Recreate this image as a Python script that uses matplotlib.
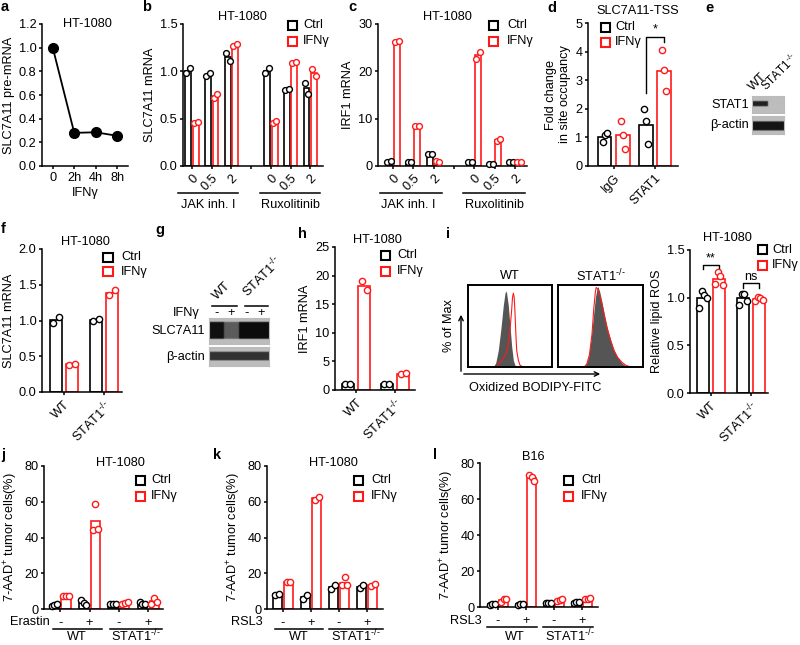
import numpy as np
import matplotlib
matplotlib.use('Agg')
import matplotlib.pyplot as plt
from matplotlib.patches import Rectangle, FancyArrowPatch
from matplotlib.lines import Line2D

plt.rcParams['font.family'] = ['Liberation Sans', 'DejaVu Sans']
plt.rcParams['font.size'] = 9.2
plt.rcParams['mathtext.fontset'] = 'custom'
plt.rcParams['mathtext.rm'] = 'Liberation Sans'
plt.rcParams['mathtext.it'] = 'Liberation Sans:italic'
plt.rcParams['mathtext.bf'] = 'Liberation Sans:bold'
plt.rcParams['axes.linewidth'] = 1.1
plt.rcParams['xtick.major.width'] = 1.1
plt.rcParams['ytick.major.width'] = 1.1
plt.rcParams['xtick.major.size'] = 2.5
plt.rcParams['ytick.major.size'] = 2.5
plt.rcParams['xtick.major.pad'] = 2
plt.rcParams['ytick.major.pad'] = 1.5

W, H = 800, 645
RED = '#ff1a1a'
KO = 'STAT1$^{\\text{-/-}}$'

# ---- data ----
# a
a_time = ['0', '2h', '4h', '8h']
a_pre = [1.0, 0.28, 0.285, 0.255]

# b, c  (JAK inh. I 0/0.5/2, Ruxolitinib 0/0.5/2)
bc_doses = ['0', '0.5', '2', '', '0', '0.5', '2']
b_ctrl = [[0.98, 1.03], [0.95, 0.98], [1.19, 1.11], [0.98, 1.03], [0.80, 0.81], [0.88, 0.76]]
b_ifn = [[0.45, 0.46], [0.72, 0.76], [1.27, 1.29], [0.45, 0.48], [1.09, 1.10], [1.02, 0.95]]
c_ctrl = [[0.9, 1.0], [0.8, 0.8], [2.5, 2.6], [0.9, 0.9], [0.5, 0.5], [0.8, 0.8]]
c_ifn = [[26.1, 26.4], [8.4, 8.4], [1.0, 0.9], [22.7, 24.1], [5.3, 5.8], [0.8, 0.8]]

# d
d_groups = ['IgG', 'STAT1']
d_ctrl = [[0.84, 1.08, 1.16], [2.0, 1.58, 0.76]]
d_ifn = [[1.58, 1.08, 0.6], [4.04, 3.34, 2.63]]

# f, h, i
wt_ko = ['WT', KO]
f_ctrl = [[0.97, 1.05], [0.99, 1.02]]
f_ifn = [[0.38, 0.39], [1.35, 1.42]]
h_ctrl = [[1.1, 1.1], [1.0, 1.1]]
h_ifn = [[19.1, 17.4], [2.8, 2.9]]
i_ctrl = [[0.89, 1.07, 1.03, 1.0], [0.92, 1.04, 1.04, 0.97]]
i_ifn = [[1.14, 1.27, 1.23, 1.13], [0.97, 1.01, 1.0, 0.98]]

# i histograms (x in % of box width, height in % of max)
hist_wt_ctrl_x = [25, 30, 33, 36, 39, 42, 44, 45, 46, 48, 50, 52, 54, 56, 60]
hist_wt_ctrl_y = [0, 0, 5, 20, 45, 75, 90, 93, 90, 75, 50, 25, 8, 2, 0]
hist_wt_ifn_x = [25, 34, 37, 40, 43, 46, 48, 50, 52, 53, 54, 55, 56, 57, 58, 60, 62, 66]
hist_wt_ifn_y = [0, 0, 4, 8, 12, 18, 28, 45, 70, 85, 90, 85, 65, 40, 20, 8, 2, 0]
hist_ko_ctrl_x = [25, 30, 33, 36, 39, 42, 44, 46, 47, 49, 52, 55, 58, 62, 66, 70, 75, 80, 85]
hist_ko_ctrl_y = [0, 0, 3, 12, 35, 65, 85, 96, 98, 92, 78, 62, 48, 33, 20, 12, 5, 1, 0]
hist_ko_ifn_x = [25, 31, 34, 37, 40, 42, 44, 45, 47, 49, 52, 55, 58, 62, 66, 70, 75, 80, 86]
hist_ko_ifn_y = [0, 0, 4, 15, 40, 70, 92, 97, 95, 88, 75, 60, 46, 32, 20, 12, 6, 2, 0]

# j, k, l
treat = ['-', '+', '-', '+']
j_ctrl = [[1.8, 2.0, 2.6], [4.9, 3.4, 2.4], [3.0, 2.8, 3.0], [3.9, 3.0, 2.6]]
j_ifn = [[7.1, 7.0, 7.5], [44.1, 58.7, 45.0], [3.0, 3.4, 3.8], [3.0, 6.4, 3.9]]
k_ctrl = [[8.0, 8.6], [5.8, 7.7], [11.4, 13.6], [11.6, 13.2]]
k_ifn = [[15.1, 15.3], [60.9, 62.8], [13.3, 17.9, 13.2], [12.9, 14.2]]
l_ctrl = [[1.2, 1.5, 1.6], [1.3, 1.5, 1.7], [2.0, 2.2, 2.4], [2.4, 2.6, 2.8]]
l_ifn = [[2.8, 4.2, 4.7], [73.5, 72.0, 70.0], [3.2, 3.7, 4.2], [4.2, 4.7, 5.2]]

# blots (band intensity per lane)
e_stat1 = [0.95, 0.0]
e_actin = [0.95, 0.95]
g_slc = [0.98, 0.55, 1.0, 1.0]
g_actin = [0.85, 0.85, 0.85, 0.85]

fig = plt.figure(figsize=(W / 100, H / 100), dpi=100)


def add_ax(x0, y0, x1, y1):
    return fig.add_axes([x0 / W, 1 - y1 / H, (x1 - x0) / W, (y1 - y0) / H])


def ftext(x, y, s, **kw):
    kw.setdefault('va', 'center')
    fig.text(x / W, 1 - y / H, s, **kw)


def fline(x0, x1, y, lw=1.1):
    fig.add_artist(Line2D([x0 / W, x1 / W], [1 - y / H] * 2, color='k', lw=lw))


def legend(bx, y1, y2, tx):
    for y, col in ((y1, 'k'), (y2, RED)):
        fig.add_artist(Rectangle(((bx - 4.5) / W, 1 - (y + 4.5) / H), 9 / W, 9 / H,
                                 fill=False, edgecolor=col, lw=1.5,
                                 transform=fig.transFigure))
    ftext(tx, y1, 'Ctrl')
    ftext(tx, y2, 'IFNγ')


def style(ax, xlim, ylim, yticks, fmt, ylabel):
    for s in ('top', 'right'):
        ax.spines[s].set_visible(False)
    ax.set_xlim(*xlim)
    ax.set_ylim(*ylim)
    ax.set_yticks(yticks)
    ax.set_yticklabels([fmt % v for v in yticks])
    ax.set_ylabel(ylabel, labelpad=3)


spread = {2: [-0.22, 0.22], 3: [-0.3, 0, 0.3], 4: [-0.33, -0.11, 0.11, 0.33]}


def bars(ax, pos, ctrl, ifn, width=0.3, off=0.19, ms=4.2, sp=1.0):
    for p, c, i in zip(pos, ctrl, ifn):
        for vals, dx, col in ((c, -off, 'k'), (i, off, RED)):
            ax.bar(p + dx, np.mean(vals), width, facecolor='white', edgecolor=col,
                   lw=1.2, zorder=2)
            offs = np.array(spread[len(vals)]) * width * sp
            ax.plot(p + dx + offs, vals, 'o', mfc='white', mec=col, ms=ms, mew=1.0,
                    zorder=3, clip_on=False)


def blot(ax, intens, band, dark=0.1):
    rows, per = 40, 20
    img = np.full((rows, per * len(intens)), 0.74)
    r0, r1 = int(band[0] * rows), int(band[1] * rows)
    for n, v in enumerate(intens):
        img[r0:r1, n * per:(n + 1) * per] = 0.74 - (0.74 - dark) * v
    ax.imshow(img, cmap='gray', vmin=0, vmax=1, aspect='auto', interpolation='bicubic')
    ax.set_xticks([])
    ax.set_yticks([])
    for s in ax.spines.values():
        s.set_color('#bbbbbb')
        s.set_linewidth(0.8)


# ---- panel letters ----
for letter, x, y in [('a', 1, 7), ('b', 142, 7), ('c', 348, 7), ('d', 547, 8), ('e', 705, 8),
                     ('f', 1, 229), ('g', 155, 230), ('h', 298, 234), ('i', 446, 234),
                     ('j', 1, 455), ('k', 213, 455), ('l', 433, 455)]:
    ftext(x, y, letter, fontweight='bold', fontsize=10.5)

# ---- a ----
ax = add_ax(42, 24, 128, 166)
ax.plot(range(len(a_time)), a_pre, '-o', color='k', ms=7, lw=1.3, clip_on=False, zorder=3)
style(ax, (-0.5, 3.5), (0, 1.2), [0, 0.2, 0.4, 0.6, 0.8, 1.0, 1.2], '%.1f', 'SLC7A11 pre-mRNA')
ax.set_xticks(range(len(a_time)))
ax.set_xticklabels(a_time)
ax.set_xlabel('IFNγ', labelpad=2)
ftext(87, 24, 'HT-1080', ha='center')

# ---- b ----
bc_pos = [0, 1, 2, 4, 5, 6]
ax = add_ax(183, 24, 323, 166)
bars(ax, bc_pos, b_ctrl, b_ifn, sp=1.4)
style(ax, (-0.46, 6.65), (0, 1.5), [0, 0.5, 1.0, 1.5], '%.1f', 'SLC7A11 mRNA')
ax.set_xticks([0, 1, 2, 3, 4, 5, 6])
ax.set_xticklabels(bc_doses, rotation=45, ha='right', rotation_mode='anchor')
ftext(242, 17, 'HT-1080', ha='center')
legend(292, 25, 41, 303)
fline(178, 238, 193)
fline(260, 320, 193)
ftext(208, 205, 'JAK inh. I', ha='center')
ftext(290, 205, 'Ruxolitinib', ha='center')

# ---- c ----
ax = add_ax(378, 24, 527, 166)
bars(ax, bc_pos, c_ctrl, c_ifn, sp=1.4)
style(ax, (-0.74, 6.6), (0, 30), [0, 10, 20, 30], '%d', 'IRF1 mRNA')
ax.set_xticks([0, 1, 2, 3, 4, 5, 6])
ax.set_xticklabels(bc_doses, rotation=45, ha='right', rotation_mode='anchor')
ftext(447, 17, 'HT-1080', ha='center')
legend(493, 25, 41, 507)
fline(380, 442, 193)
fline(463, 525, 193)
ftext(408, 205, 'JAK inh. I', ha='center')
ftext(494, 205, 'Ruxolitinib', ha='center')

# ---- d ----
ax = add_ax(588, 23, 678, 166)
bars(ax, [0, 1], d_ctrl, d_ifn, width=0.32, off=0.22, ms=4.5, sp=0.5)
style(ax, (-0.63, 1.56), (0, 5), [0, 1, 2, 3, 4, 5], '%d', 'Fold change\nin site occupancy')
ax.set_xticks([0, 1])
ax.set_xticklabels(d_groups, rotation=45, ha='right', rotation_mode='anchor')
ax.plot([0.78, 0.78, 1.22, 1.22], [2.55, 4.51, 4.51, 4.35], color='k', lw=1.0, clip_on=False)
ax.text(1.0, 4.55, '*', ha='center', va='bottom', fontsize=9)
ftext(638, 11, 'SLC7A11-TSS', ha='center')
legend(605, 27, 42, 615)

# ---- e ----
ax = add_ax(752, 96, 784, 113)
blot(ax, e_stat1, (0.3, 0.6))
ax = add_ax(752, 116, 784, 134)
blot(ax, e_actin, (0.3, 0.8), dark=0.05)
ftext(749, 105, 'STAT1', ha='right')
ftext(749, 125, 'β-actin', ha='right')
fig.text(755 / W, 1 - 93 / H, 'WT', rotation=45, ha='left', va='bottom', rotation_mode='anchor')
fig.text(769 / W, 1 - 94 / H, KO, rotation=45, ha='left', va='bottom', rotation_mode='anchor',
         fontsize=8.4)

# ---- f ----
ax = add_ax(42, 249, 122, 392)
bars(ax, [0, 1], f_ctrl, f_ifn, width=0.32, off=0.2, ms=4.5)
style(ax, (-0.55, 1.45), (0, 2.0), [0, 0.5, 1.0, 1.5, 2.0], '%.1f', 'SLC7A11 mRNA')
ax.set_xticks([0, 1])
ax.set_xticklabels(wt_ko, rotation=45, ha='right', rotation_mode='anchor')
ftext(85, 242, 'HT-1080', ha='center')
legend(108, 257, 272, 121)

# ---- g ----
ax = add_ax(209, 318, 269, 344)
blot(ax, g_slc, (0.15, 0.8), dark=0.05)
ax = add_ax(209, 347, 269, 366)
blot(ax, g_actin, (0.25, 0.7))
ftext(205, 331, 'SLC7A11', ha='right')
ftext(205, 357, 'β-actin', ha='right')
ftext(200, 313, 'IFNγ', ha='right')
for lx, s in zip([216.5, 231.5, 246.5, 261.5], ['-', '+', '-', '+']):
    ftext(lx, 313, s, ha='center')
fline(212, 237, 306)
fline(245, 268, 306)
fig.text(219 / W, 1 - 302 / H, 'WT', rotation=45, ha='left', va='bottom', rotation_mode='anchor')
fig.text(250 / W, 1 - 300 / H, KO, rotation=45, ha='left', va='bottom', rotation_mode='anchor')

# ---- h ----
ax = add_ax(335, 247, 415, 390)
bars(ax, [0, 1], h_ctrl, h_ifn, width=0.3, off=0.21, ms=4.5)
style(ax, (-0.54, 1.51), (0, 25), [0, 5, 10, 15, 20, 25], '%d', 'IRF1 mRNA')
ax.set_xticks([0, 1])
ax.set_xticklabels(wt_ko, rotation=45, ha='right', rotation_mode='anchor')
ftext(377, 240, 'HT-1080', ha='center')
legend(385, 255, 271, 397)

# ---- i histograms ----
for (x0, x1, cx, cy, rx, ry, title) in [
        (468, 552, hist_wt_ctrl_x, hist_wt_ctrl_y, hist_wt_ifn_x, hist_wt_ifn_y, 'WT'),
        (558, 643, hist_ko_ctrl_x, hist_ko_ctrl_y, hist_ko_ifn_x, hist_ko_ifn_y, KO)]:
    ax = add_ax(x0, 285, x1, 367)
    ax.fill_between(cx, cy, color='#555555', lw=0)
    ax.plot(rx, ry, color=RED, lw=0.8)
    ax.set_xlim(0, 100)
    ax.set_ylim(0, 100)
    ax.set_xticks([])
    ax.set_yticks([])
    for s in ax.spines.values():
        s.set_linewidth(1.4)
    ftext((x0 + x1) / 2, 276, title, ha='center')
fig.add_artist(FancyArrowPatch((461 / W, 1 - 374 / H), (461 / W, 1 - 312 / H),
                               transform=fig.transFigure, arrowstyle='->',
                               mutation_scale=8, lw=1.0, color='k'))
fig.add_artist(FancyArrowPatch((461 / W, 1 - 374 / H), (603 / W, 1 - 374 / H),
                               transform=fig.transFigure, arrowstyle='->',
                               mutation_scale=8, lw=1.0, color='k'))
ftext(449, 326, '% of Max', rotation=90, ha='center')
ftext(535, 388, 'Oxidized BODIPY-FITC', ha='center')

# ---- i bars ----
ax = add_ax(690, 250, 768, 393)
bars(ax, [0, 1], i_ctrl, i_ifn, width=0.31, off=0.2, ms=4.5)
style(ax, (-0.525, 1.425), (0, 1.5), [0, 0.5, 1.0, 1.5], '%.1f', 'Relative lipid ROS')
ax.set_xticks([0, 1])
ax.set_xticklabels(wt_ko, rotation=45, ha='right', rotation_mode='anchor')
ax.plot([-0.2, -0.2, 0.2, 0.2], [1.30, 1.34, 1.34, 1.30], color='k', lw=1.0, clip_on=False)
ax.text(0, 1.345, '**', ha='center', va='bottom', fontsize=9)
ax.plot([0.8, 0.8, 1.2, 1.2], [1.10, 1.15, 1.15, 1.10], color='k', lw=1.0, clip_on=False)
ax.text(1, 1.155, 'ns', ha='center', va='bottom', fontsize=9)
ftext(727, 238, 'HT-1080', ha='center')
legend(762, 250, 265, 772)

# ---- j, k, l ----
ylab = '7-AAD$^{+}$ tumor cells(%)'
for (box, xlim, ctrl, ifn, title, tpos, drug, dpos, lpos, gy, glabels) in [
        ((44, 466, 163, 609), (-0.55, 3.5), j_ctrl, j_ifn, 'HT-1080', (120, 463), 'Erastin', (50, 622),
         (140, 480, 496, 151), 629, [(53, 102, 77), (110, 162, 136)]),
        ((267, 466, 383, 609), (-0.57, 3.57), k_ctrl, k_ifn, 'HT-1080', (333, 463), 'RSL3', (263, 622),
         (358, 480, 496, 371), 629, [(275, 323, 299), (329, 383, 356)]),
        ((480, 463, 598, 607), (-0.64, 3.57), l_ctrl, l_ifn, 'B16', (533, 457), 'RSL3', (482, 621),
         (568, 480, 496, 581), 627, [(487, 537, 515), (543, 593, 570)])]:
    ax = add_ax(*box)
    bars(ax, [0, 1, 2, 3], ctrl, ifn, width=0.31, off=0.2, ms=4.5)
    style(ax, xlim, (0, 80), [0, 20, 40, 60, 80], '%d', ylab)
    ax.set_xticks([0, 1, 2, 3])
    ax.set_xticklabels(treat)
    ax.tick_params(axis='x', pad=3)
    ftext(tpos[0], tpos[1], title, ha='center')
    ftext(dpos[0], dpos[1], drug, ha='right')
    legend(*lpos)
    for g0, g1, gc in glabels:
        fline(g0, g1, gy)
    ftext(glabels[0][2], 637, 'WT', ha='center')
    ftext(glabels[1][2], 636, KO, ha='center')

fig.savefig('out.png', dpi=100)
